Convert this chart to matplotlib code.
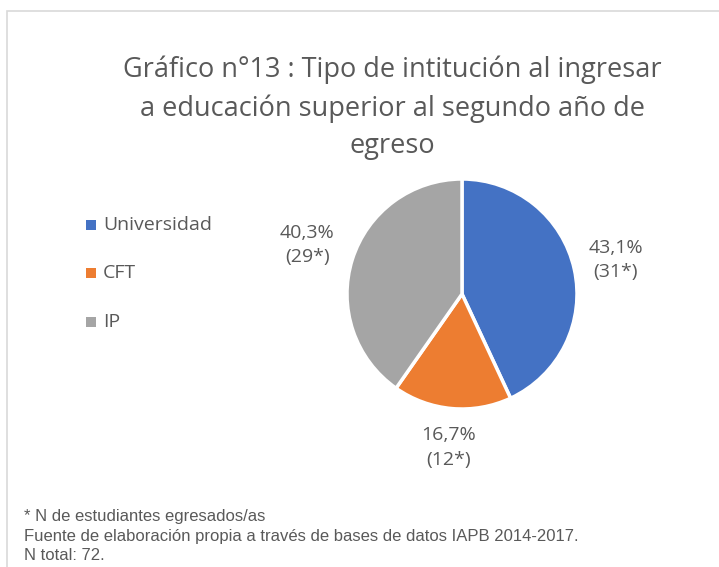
import matplotlib.pyplot as plt
import numpy as np
from matplotlib.patches import Rectangle

W, H = 719, 567

categories = ['Universidad', 'CFT', 'IP']
counts = [31, 12, 29]
colors_pie = ['#4472C4', '#ED7D31', '#A5A5A5']
label_dist = [1.37, 1.34, 1.41]

title = 'Gráfico n°13 : Tipo de intitución al ingresar\na educación superior al segundo año de\negreso'
notes = ['* N de estudiantes egresados/as',
         'Fuente de elaboración propia a través de bases de datos IAPB 2014-2017.',
         'N total: 72.']

TXT = '#595959'
plt.rcParams['font.family'] = ['Open Sans', 'DejaVu Sans']

fig = plt.figure(figsize=(W / 100, H / 100), dpi=100)
fig.patch.set_facecolor('white')

# chart border (only top and left visible in the crop)
fig.add_artist(Rectangle((7 / W, -0.1), 1.2, 1 - 11 / H + 0.1, transform=fig.transFigure,
                         fill=False, edgecolor='#D9D9D9', linewidth=1.2))

fig.text(392 / W, 1 - 108 / H, title, ha='center', va='center', fontsize=19.5,
         color=TXT, linespacing=1.45)

# pie
cx, cy, r = 462, 294, 115
ax = fig.add_axes([(cx - r) / W, 1 - (cy + r) / H, 2 * r / W, 2 * r / H])
wedges, _ = ax.pie(counts, colors=colors_pie, startangle=90, counterclock=False,
                   wedgeprops=dict(edgecolor='white', linewidth=2.5))
ax.set_xlim(-1, 1)
ax.set_ylim(-1, 1)
ax.set_aspect('auto')
ax.axis('off')

total = sum(counts)
for w, n, d in zip(wedges, counts, label_dist):
    ang = np.deg2rad((w.theta1 + w.theta2) / 2)
    pct = f'{100 * n / total:.1f}'.replace('.', ',')
    ax.text(d * np.cos(ang), d * np.sin(ang), f'{pct}%\n({n}*)', ha='center', va='center',
            fontsize=14, color=TXT, linespacing=1.45)

# legend
leg_y = [225, 273, 322]
for cat, col, y in zip(categories, colors_pie, leg_y):
    fig.add_artist(Rectangle((86 / W, 1 - (y + 5) / H), 10 / W, 10 / H,
                             transform=fig.transFigure, facecolor=col, edgecolor='none'))
    fig.text(103 / W, 1 - y / H, cat, ha='left', va='center', fontsize=14, color=TXT)

# footnotes
for i, t in enumerate(notes):
    fig.text(24 / W, 1 - (517 + 19.5 * i) / H, t, ha='left', va='center', fontsize=12,
             color=TXT, family=['Liberation Sans', 'DejaVu Sans'])

fig.savefig('out.png', dpi=100)
